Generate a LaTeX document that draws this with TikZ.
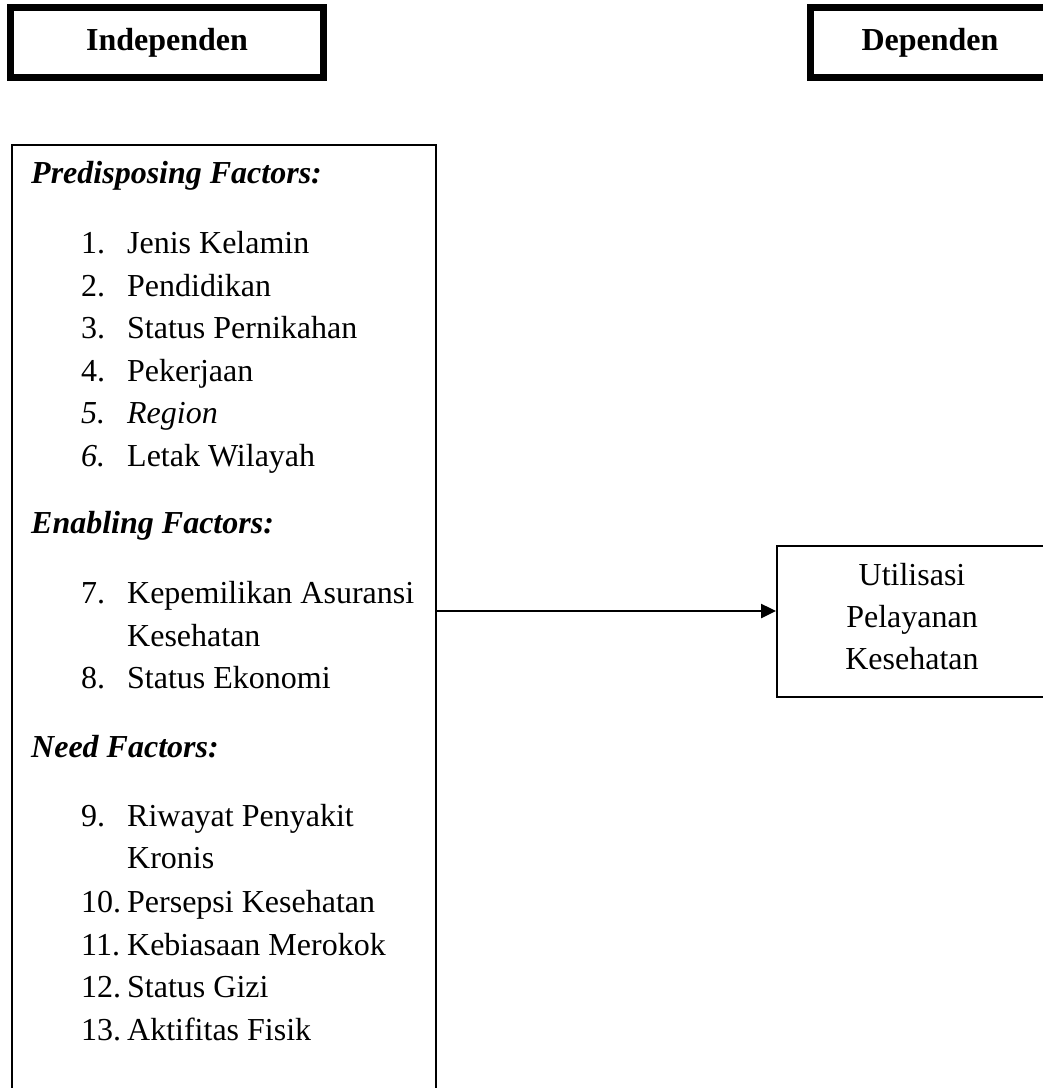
\documentclass[tikz,border=0pt]{standalone}
\usepackage{fontspec}
\setmainfont{Liberation Serif}
\usetikzlibrary{arrows.meta}
\newcommand{\itm}[2]{\makebox[46pt][l]{#1}#2}
\begin{document}
\begin{tikzpicture}[x=1pt,y=-1pt,
  basefont/.style={font=\fontsize{32}{42}\selectfont},
  txt/.style={basefont, anchor=base west, inner sep=0pt},
  head/.style={anchor=base west, inner sep=0pt, font=\fontsize{32}{42}\selectfont\bfseries\itshape},
  ctxt/.style={basefont, anchor=base, inner sep=0pt},
  titlebox/.style={draw, line width=7pt, inner sep=0pt, minimum width=313pt, minimum height=70pt,
    text height=22pt, text depth=7pt, font=\fontsize{32}{42}\selectfont\bfseries},
  thinbox/.style={draw, line width=2pt, inner sep=0pt, anchor=north west},
  conn/.style={line width=2.5pt, -{Triangle[length=15pt,width=14pt]}}]
\useasboundingbox (0,0) rectangle (1043,1088);
\clip (0,0) rectangle (1043,1088);

% title boxes
\node[titlebox] (tind) at (167,42.5) {Independen};
\node[titlebox, minimum width=239pt] (tdep) at (930,42.5) {Dependen};

% big box of independent variables
\node[thinbox, minimum width=424pt, minimum height=1000pt] (indep) at (11,144) {};

\node[head] (hpre) at (31,183) {Predisposing Factors:};
\node[txt] (i1) at (81,253) {\itm{1.}{Jenis Kelamin}};
\node[txt] (i2) at (81,296) {\itm{2.}{Pendidikan}};
\node[txt] (i3) at (81,338.5) {\itm{3.}{Status Pernikahan}};
\node[txt] (i4) at (81,381) {\itm{4.}{Pekerjaan}};
\node[txt] (i5) at (81,423) {\itm{\itshape 5.}{\itshape Region}};
\node[txt] (i6) at (81,466) {\itm{\itshape 6.}{Letak Wilayah}};

\node[head] (hena) at (31,533) {Enabling Factors:};
\node[txt] (i7) at (81,603) {\itm{7.}{Kepemilikan Asuransi}};
\node[txt] (i7b) at (127,646) {Kesehatan};
\node[txt] (i8) at (81,688) {\itm{8.}{Status Ekonomi}};

\node[head] (hneed) at (31,757) {Need Factors:};
\node[txt] (i9) at (81,826) {\itm{9.}{Riwayat Penyakit}};
\node[txt] (i9b) at (127,868) {Kronis};
\node[txt] (i10) at (81,912) {\itm{10.}{Persepsi Kesehatan}};
\node[txt] (i11) at (81,955) {\itm{11.}{Kebiasaan Merokok}};
\node[txt] (i12) at (81,997) {\itm{12.}{Status Gizi}};
\node[txt] (i13) at (81,1040) {\itm{13.}{Aktifitas Fisik}};

% dependent box
\node[thinbox, minimum width=274pt, minimum height=151pt] (util) at (776,545) {};
\node[ctxt] (u1) at (912,585) {Utilisasi};
\node[ctxt] (u2) at (912,627) {Pelayanan};
\node[ctxt] (u3) at (912,669) {Kesehatan};

% connector
\coordinate (ay) at (600,611);
\draw[conn] (indep.east |- ay) -- (util.west |- ay);
\end{tikzpicture}
\end{document}
